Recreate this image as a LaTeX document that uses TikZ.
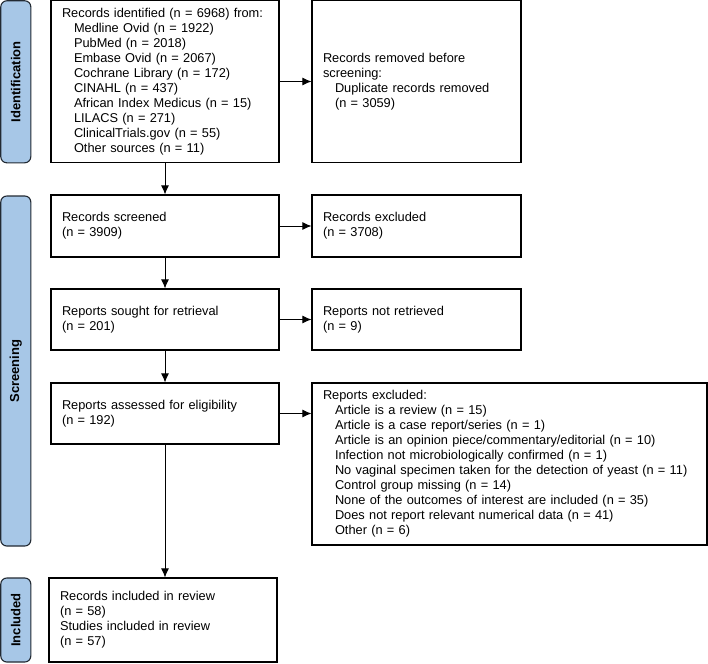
\documentclass[tikz,border=0pt]{standalone}
\usepackage{fontspec}
\setmainfont{Liberation Sans}
\usetikzlibrary{arrows.meta}

% Colores
\definecolor{azulfase}{HTML}{A7C7E7}
\definecolor{bordefase}{HTML}{222A33}

% Sangria de los subapartados
\newcommand{\sangria}{\hspace*{12pt}}

\tikzset{
  caja/.style={draw, line width=1.1pt, align=left, inner xsep=11pt, inner ysep=0pt,
    font=\fontsize{12.8}{15}\selectfont},
  fase/.style={draw=bordefase, line width=1.1pt, fill=azulfase, rounded corners=6pt,
    rotate=90, minimum height=30pt, inner sep=0pt, font=\bfseries\fontsize{13}{15}\selectfont},
  flecha/.style={line width=1pt, -{Latex[length=9pt,width=8pt]}}
}

\begin{document}
\begin{tikzpicture}[x=1pt, y=-1pt]
\useasboundingbox (0,0) rectangle (708,663);

% Barras de las fases (texto girado 90 grados)
\node[fase, minimum width=162pt] (fident) at (15.8,81.8) {Identification};
\node[fase, minimum width=350pt] (fcrib) at (15.8,371) {Screening};
\node[fase, minimum width=84pt] (fincl) at (15.8,620) {Included};

% Cajas de la columna izquierda
\node[caja, text width=206pt, minimum height=162pt] (ident) at (165,81.5)
  {\mbox{Records identified (n = 6968) from:}\\
   \sangria Medline Ovid (n = 1922)\\
   \sangria PubMed (n = 2018)\\
   \sangria Embase Ovid (n = 2067)\\
   \sangria Cochrane Library (n = 172)\\
   \sangria CINAHL (n = 437)\\
   \sangria African Index Medicus (n = 15)\\
   \sangria LILACS (n = 271)\\
   \sangria ClinicalTrials.gov (n = 55)\\
   \sangria Other sources (n = 11)};
\node[caja, text width=206pt, minimum height=62pt] (cribados) at (165,226)
  {Records screened\\(n = 3909)};
\node[caja, text width=206pt, minimum height=61pt] (buscados) at (165,319.5)
  {Reports sought for retrieval\\(n = 201)};
\node[caja, text width=206pt, minimum height=61pt] (evaluados) at (165,413.5)
  {Reports assessed for eligibility\\(n = 192)};
\node[caja, text width=206pt, minimum height=84pt] (incluidos) at (163,620)
  {Records included in review\\(n = 58)\\Studies included in review\\(n = 57)};

% Cajas de la columna derecha
\node[caja, text width=187pt, minimum height=162pt] (eliminados) at (416.5,81.5)
  {Records removed before\\screening:\\
   \sangria Duplicate records removed\\
   \sangria (n = 3059)};
\node[caja, text width=187pt, minimum height=62pt] (excluidos) at (416.5,226)
  {Records excluded\\(n = 3708)};
\node[caja, text width=187pt, minimum height=61pt] (norecup) at (416.5,319.5)
  {Reports not retrieved\\(n = 9)};
\node[caja, text width=373pt, minimum height=162pt] (infexcl) at (509.5,464)
  {Reports excluded:\\
   \sangria Article is a review (n = 15)\\
   \sangria Article is a case report/series (n = 1)\\
   \sangria Article is an opinion piece/commentary/editorial (n = 10)\\
   \sangria Infection not microbiologically confirmed (n = 1)\\
   \sangria No vaginal specimen taken for the detection of yeast (n = 11)\\
   \sangria Control group missing (n = 14)\\
   \sangria None of the outcomes of interest are included (n = 35)\\
   \sangria Does not report relevant numerical data (n = 41)\\
   \sangria Other (n = 6)};

% Flechas verticales
\draw[flecha] (ident) -- (cribados);
\draw[flecha] (cribados) -- (buscados);
\draw[flecha] (buscados) -- (evaluados);
\draw[flecha] (evaluados.south) -- (evaluados.south |- incluidos.north);

% Flechas horizontales
\draw[flecha] (ident) -- (eliminados);
\draw[flecha] (cribados) -- (excluidos);
\draw[flecha] (buscados) -- (norecup);
\draw[flecha] (evaluados) -- (evaluados -| infexcl.west);
\end{tikzpicture}
\end{document}
